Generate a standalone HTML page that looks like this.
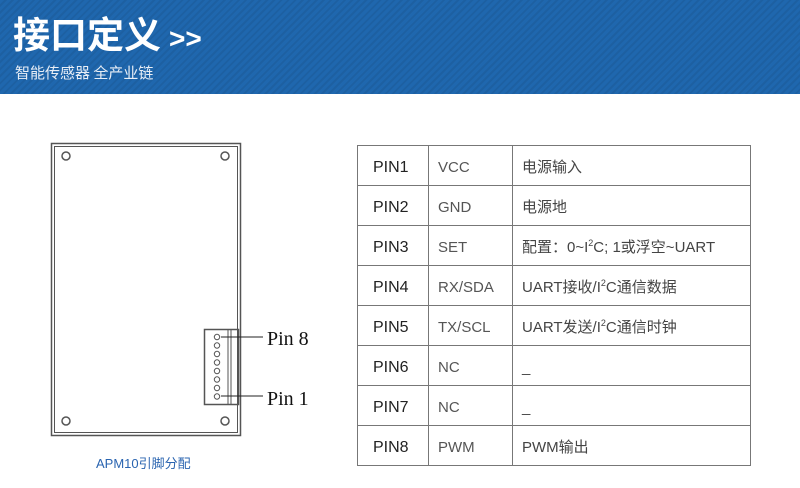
<!DOCTYPE html>
<html><head><meta charset="utf-8"><style>
*{margin:0;padding:0;box-sizing:border-box}
body{width:800px;height:488px;background:#fff;position:relative;overflow:hidden;font-family:"Liberation Sans","Noto Sans CJK SC",sans-serif}
.hdr{position:absolute;left:0;top:0;width:800px;height:94px;background:#1f67ae;background-image:repeating-linear-gradient(135deg,rgba(255,255,255,0) 0 3px,rgba(0,0,0,0.07) 3px 5px)}
.t1{position:absolute;left:13px;top:11px;color:#fff;font-size:37px;font-weight:bold;font-family:"Noto Sans CJK SC",sans-serif;line-height:42px}
.t1 span{font-family:"Liberation Sans",sans-serif;font-weight:bold;font-size:28px;margin-left:8px}
.t2{position:absolute;left:15px;top:62px;color:#e8eef6;font-size:15px;font-family:"Noto Sans CJK SC",sans-serif}
table{position:absolute;left:357px;top:145px;border-collapse:collapse;font-family:"Liberation Sans","Noto Sans CJK SC",sans-serif;font-size:15px;color:#333}
td{border:1px solid #777;height:40px;padding:4px 0 0 9px;white-space:nowrap;line-height:20px;vertical-align:middle}
td.a{width:71px;font-size:16px;color:#222;padding-left:15px}
td.b{width:84px;color:#555}
td.c{width:238px;color:#444}
sup{font-size:9px;line-height:0;vertical-align:6px}
.cap{position:absolute;left:96px;top:453px;color:#2a64b0;font-size:13px;font-family:"Liberation Sans","Noto Sans CJK SC",sans-serif}
</style></head><body>
<div class="hdr"><div class="t1">接口定义<span>&gt;&gt;</span></div><div class="t2">智能传感器 全产业链</div></div>
<svg width="800" height="488" style="position:absolute;left:0;top:0" fill="none" stroke="#555">
<rect x="51.5" y="143.5" width="189" height="292" stroke-width="1.5"/>
<rect x="54.5" y="146.5" width="183" height="286" stroke-width="1"/>
<circle cx="66" cy="156" r="4" stroke-width="1.5"/><circle cx="225" cy="156" r="4" stroke-width="1.5"/>
<circle cx="66" cy="421" r="4" stroke-width="1.5"/><circle cx="225" cy="421" r="4" stroke-width="1.5"/>
<rect x="204.5" y="329.5" width="34" height="75" stroke-width="1.5"/>
<line x1="228" y1="330" x2="228" y2="404"/><line x1="231" y1="330" x2="231" y2="404"/>
<g stroke-width="1"><circle cx="217" cy="337" r="2.7"/><circle cx="217" cy="345.5" r="2.7"/><circle cx="217" cy="354" r="2.7"/><circle cx="217" cy="362.5" r="2.7"/><circle cx="217" cy="371" r="2.7"/><circle cx="217" cy="379.5" r="2.7"/><circle cx="217" cy="388" r="2.7"/><circle cx="217" cy="396.5" r="2.7"/></g>
<line x1="221" y1="337" x2="263" y2="337" stroke="#222"/><line x1="221" y1="396" x2="263" y2="396" stroke="#222"/>
<text x="267" y="345" fill="#111" stroke="none" font-family="Liberation Serif,serif" font-size="20">Pin 8</text>
<text x="267" y="405" fill="#111" stroke="none" font-family="Liberation Serif,serif" font-size="20">Pin 1</text>
</svg>
<div class="cap">APM10引脚分配</div>
<table>
<tr><td class="a">PIN1</td><td class="b">VCC</td><td class="c">电源输入</td></tr>
<tr><td class="a">PIN2</td><td class="b">GND</td><td class="c">电源地</td></tr>
<tr><td class="a">PIN3</td><td class="b">SET</td><td class="c">配置：0~I<sup>2</sup>C; 1或浮空~UART</td></tr>
<tr><td class="a">PIN4</td><td class="b">RX/SDA</td><td class="c">UART接收/I<sup>2</sup>C通信数据</td></tr>
<tr><td class="a">PIN5</td><td class="b">TX/SCL</td><td class="c">UART发送/I<sup>2</sup>C通信时钟</td></tr>
<tr><td class="a">PIN6</td><td class="b">NC</td><td class="c">_</td></tr>
<tr><td class="a">PIN7</td><td class="b">NC</td><td class="c">_</td></tr>
<tr><td class="a">PIN8</td><td class="b">PWM</td><td class="c">PWM输出</td></tr>
</table>
</body></html>
